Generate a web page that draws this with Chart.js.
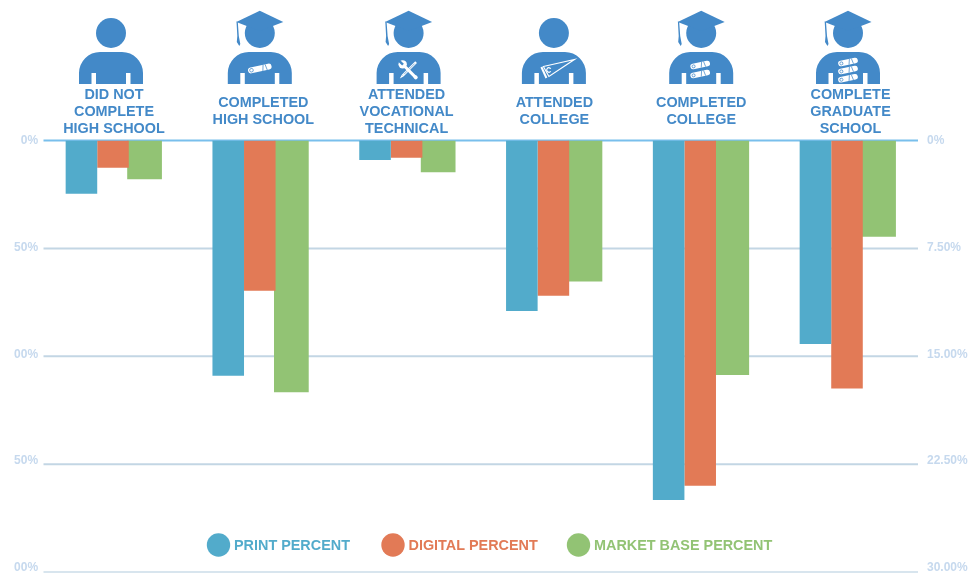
<!DOCTYPE html>
<html>
<head>
<meta charset="utf-8">
<style>html,body{margin:0;padding:0;background:#fff}canvas{display:block}</style>
<script src="https://cdn.jsdelivr.net/npm/chart.js@4"></script>
</head>
<body>
<canvas id="c" width="974" height="573"></canvas>
<script>
const categories = [
  ['DID NOT','COMPLETE','HIGH SCHOOL'],
  ['COMPLETED','HIGH SCHOOL'],
  ['ATTENDED','VOCATIONAL','TECHNICAL'],
  ['ATTENDED','COLLEGE'],
  ['COMPLETED','COLLEGE'],
  ['COMPLETE','GRADUATE','SCHOOL']
];
const printPercent   = [3.7, 16.35, 1.35, 11.85, 25.0, 14.15];
const digitalPercent = [1.9, 10.45, 1.2, 10.8, 24.0, 17.25];
const marketPercent  = [2.7, 17.5, 2.2, 9.8, 16.3, 6.7];
const tickValues = [0, 7.5, 15, 22.5, 30];
const leftTickLabels  = ['0%', '50%', '00%', '50%', '00%'];
const rightTickLabels = ['0%', '7.50%', '15.00%', '22.50%', '30.00%'];
const chestIcons = ['none', 'scroll1', 'tools', 'pennant', 'scroll2', 'scroll3'];
const hasCap = [false, true, true, false, true, true];
const iconNudge = [-2, 0, 2, 0.5, 1, 1];
const labelNudge = [1, 3.5, 0, 1, 1, 3.5];

const FONT = '"Liberation Sans", Arial, sans-serif';
const ICON = '#4389c8', TICK = '#c6d9ee';
const BLUE = '#52abcb', ORANGE = '#e27a56', GREEN = '#92c374';
const GRID_L = 43.5, GRID_R = 918;

function drawScroll(ctx, x, y, len, th) {
  ctx.save();
  ctx.translate(x, y);
  ctx.rotate(-0.21);
  ctx.fillStyle = '#fff';
  ctx.beginPath();
  ctx.roundRect(-len / 2, -th / 2, len, th, th / 2);
  ctx.fill();
  ctx.strokeStyle = ICON;
  ctx.lineWidth = 0.7;
  ctx.beginPath();
  ctx.arc(-len / 2 + th / 2 + 0.5, 0, th / 2 - 1.2, 0, Math.PI * 2);
  ctx.stroke();
  ctx.beginPath();
  ctx.moveTo(len / 2 - 8, -th / 2);
  ctx.lineTo(len / 2 - 9.5, th / 2);
  ctx.moveTo(len / 2 - 6, -th / 2);
  ctx.lineTo(len / 2 - 5, th / 2);
  ctx.stroke();
  ctx.restore();
}
function drawTools(ctx, cx) {
  ctx.save();
  ctx.translate(cx - 0.3, 70);
  ctx.strokeStyle = '#fff';
  ctx.fillStyle = '#fff';
  ctx.save();
  ctx.rotate(Math.PI / 4);
  ctx.lineWidth = 2.4;
  ctx.beginPath(); ctx.moveTo(0, -11); ctx.lineTo(0, 8); ctx.stroke();
  ctx.strokeStyle = ICON; ctx.lineWidth = 0.6;
  ctx.beginPath(); ctx.moveTo(0, -9); ctx.lineTo(0, 6); ctx.stroke();
  ctx.beginPath(); ctx.moveTo(-1.2, 8); ctx.lineTo(1.2, 8); ctx.lineTo(0, 12); ctx.closePath(); ctx.fill();
  ctx.restore();
  ctx.rotate(-Math.PI / 4);
  ctx.strokeStyle = '#fff';
  ctx.lineWidth = 3;
  ctx.beginPath(); ctx.moveTo(0, -7); ctx.lineTo(0, 10); ctx.stroke();
  ctx.beginPath(); ctx.arc(0, -8, 4.2, 0, Math.PI * 2); ctx.fill();
  ctx.fillStyle = ICON;
  ctx.fillRect(-1.2, -13, 2.4, 5.5);
  ctx.fillStyle = '#fff';
  ctx.beginPath(); ctx.arc(0, 10.5, 2, 0, Math.PI * 2); ctx.fill();
  ctx.restore();
}
function drawPennant(ctx, cx) {
  ctx.save();
  ctx.translate(cx, 0);
  ctx.strokeStyle = '#fff';
  ctx.lineWidth = 1.2;
  ctx.beginPath();
  ctx.moveTo(-10.5, 66.5); ctx.lineTo(20.5, 59.5); ctx.lineTo(-5, 76.5); ctx.closePath();
  ctx.stroke();
  ctx.lineWidth = 2;
  ctx.beginPath(); ctx.moveTo(-12.5, 67); ctx.lineTo(-7.5, 78); ctx.stroke();
  ctx.lineWidth = 1.2;
  ctx.beginPath(); ctx.arc(-5, 70, 2.2, 0.6, Math.PI * 2 - 0.6); ctx.stroke();
  ctx.restore();
}
const iconPlugin = {
  id: 'icons',
  afterDraw(chart) {
    const ctx = chart.ctx, x = chart.scales.x;
    categories.forEach((_, i) => {
      const cx = x.getPixelForValue(i) + iconNudge[i];
      ctx.save();
      ctx.fillStyle = ICON;
      ctx.beginPath(); ctx.arc(cx, 33, 15, 0, Math.PI * 2); ctx.fill();
      ctx.beginPath();
      ctx.moveTo(cx - 32, 84);
      ctx.arcTo(cx - 32, 52, cx, 52, 21);
      ctx.arcTo(cx + 32, 52, cx + 32, 84, 21);
      ctx.lineTo(cx + 32, 84);
      ctx.lineTo(cx + 19.5, 84); ctx.lineTo(cx + 19.5, 73); ctx.lineTo(cx + 15, 73); ctx.lineTo(cx + 15, 84);
      ctx.lineTo(cx - 15, 84); ctx.lineTo(cx - 15, 73); ctx.lineTo(cx - 19.5, 73); ctx.lineTo(cx - 19.5, 84);
      ctx.closePath();
      ctx.fill();
      if (hasCap[i]) {
        ctx.beginPath();
        ctx.moveTo(cx, 10.7); ctx.lineTo(cx + 23.5, 22); ctx.lineTo(cx, 31); ctx.lineTo(cx - 23.5, 22); ctx.closePath();
        ctx.fill();
        ctx.beginPath();
        ctx.moveTo(cx - 23.3, 21.5); ctx.lineTo(cx - 22, 22); ctx.lineTo(cx - 21, 36);
        ctx.lineTo(cx - 19.5, 44); ctx.lineTo(cx - 20.5, 46); ctx.lineTo(cx - 23, 42);
        ctx.lineTo(cx - 22.5, 36); ctx.closePath();
        ctx.fill();
      }
      const c = chestIcons[i];
      if (c === 'scroll1') drawScroll(ctx, cx, 68.5, 24, 6);
      if (c === 'scroll2') { drawScroll(ctx, cx - 1, 65, 20, 5.5); drawScroll(ctx, cx - 1, 74, 20, 5.5); }
      if (c === 'scroll3') { drawScroll(ctx, cx, 62, 20, 5.5); drawScroll(ctx, cx, 70, 20, 5.5); drawScroll(ctx, cx, 78.3, 20, 5.5); }
      if (c === 'tools') drawTools(ctx, cx);
      if (c === 'pennant') drawPennant(ctx, cx);
      ctx.restore();
    });
    ctx.save();
    ctx.font = 'bold 14.4px ' + FONT;
    ctx.textBaseline = 'middle';
    const legendX = [218.5, 393, 578.5];
    chart.data.datasets.forEach((d, i) => {
      ctx.fillStyle = d.backgroundColor;
      ctx.beginPath(); ctx.arc(legendX[i], 545, 11.7, 0, Math.PI * 2); ctx.fill();
      ctx.fillText(d.label, legendX[i] + 15.5, 546);
    });
    ctx.restore();
  }
};
const gridPlugin = {
  id: 'hgrid',
  beforeDatasetsDraw(chart) {
    const ctx = chart.ctx, y = chart.scales.y;
    tickValues.forEach((v, i) => {
      const p = y.getPixelForValue(v);
      ctx.save();
      ctx.strokeStyle = i === 0 ? '#79bfec' : (i === 4 ? '#d8e5ee' : '#c3d6e4');
      ctx.lineWidth = 2;
      ctx.beginPath(); ctx.moveTo(GRID_L, p); ctx.lineTo(GRID_R, p); ctx.stroke();
      ctx.restore();
    });
  }
};
const tickFont = { family: FONT, size: 12, weight: 'bold' };
const setTicks = s => { s.ticks = tickValues.map(v => ({ value: v })); };
const noPad = s => { s.paddingTop = 0; s.paddingBottom = 0; s.paddingLeft = 0; s.paddingRight = 0; };
new Chart(document.getElementById('c'), {
  type: 'bar',
  data: {
    labels: categories,
    datasets: [
      { label: 'PRINT PERCENT', data: printPercent, backgroundColor: BLUE, barPercentage: 1 },
      { label: 'DIGITAL PERCENT', data: digitalPercent, backgroundColor: ORANGE, barPercentage: 1 },
      { label: 'MARKET BASE PERCENT', data: marketPercent, backgroundColor: GREEN, barPercentage: 1.1 }
    ]
  },
  options: {
    responsive: false,
    animation: false,
    layout: { autoPadding: false, padding: { left: 0, right: 0, top: 0, bottom: 1 } },
    datasets: { bar: { categoryPercentage: 97 / 146.8 } },
    plugins: { legend: { display: false }, tooltip: { enabled: false } },
    scales: {
      x: {
        position: 'top',
        grid: { display: false, drawTicks: false },
        border: { display: false },
        ticks: {
          color: ICON, maxRotation: 0, autoSkip: false, crossAlign: 'center', padding: 11.5,
          font: { family: FONT, size: 14.4, weight: 'bold', lineHeight: 1.18 }
        },
        afterFit(s) {
          s.height = 140.5;
          noPad(s);
          const base = Object.getPrototypeOf(s).getPixelForTick;
          s.getPixelForTick = i => base.call(s, i) + labelNudge[i];
        }
      },
      y: {
        display: false, reverse: true, min: 0, max: 30, afterFit: noPad
      },
      yL: {
        position: 'left', reverse: true, min: 0, max: 30.28,
        grid: { display: false, drawTicks: false }, border: { display: false },
        afterBuildTicks: setTicks,
        ticks: {
          color: TICK, font: tickFont, padding: 1.5,
          callback: (v, i) => leftTickLabels[i]
        },
        afterFit(s) { s.width = 39.6; noPad(s); }
      },
      yR: {
        position: 'right', reverse: true, min: 0, max: 30.28,
        grid: { display: false, drawTicks: false }, border: { display: false },
        afterBuildTicks: setTicks,
        ticks: {
          color: TICK, font: tickFont, padding: 6.6,
          callback: (v, i) => rightTickLabels[i]
        },
        afterFit(s) { s.width = 53.6; noPad(s); }
      }
    }
  },
  plugins: [gridPlugin, iconPlugin]
});
</script>
</body>
</html>
